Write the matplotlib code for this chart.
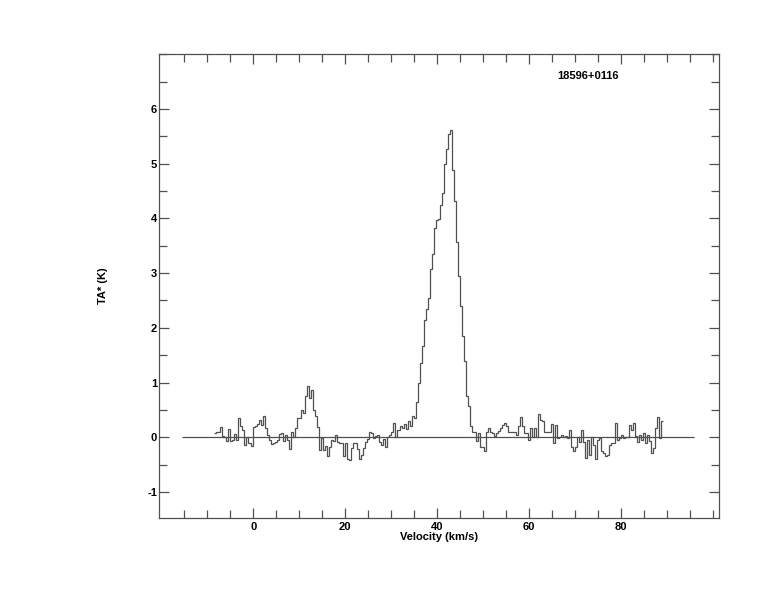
import numpy as np
import matplotlib
matplotlib.use("Agg")
import matplotlib.pyplot as plt

plt.rcParams['font.family'] = ['Liberation Sans', 'DejaVu Sans']
plt.rcParams['font.weight'] = 'bold'
plt.rcParams['axes.unicode_minus'] = False

source_name = "18596+0116"
v_start = -8.48
dv = 0.4377
# antenna temperature per channel (K)
ta = [
    0.07, 0.09, 0.09, 0.18, 0.02, 0.00, -0.07, 0.15, -0.06, -0.05,
    0.06, -0.05, 0.35, 0.20, 0.13, -0.14, 0.01, -0.11, -0.16, 0.18,
    0.20, 0.25, 0.32, 0.23, 0.38, 0.17, 0.04, -0.05, -0.12, -0.10,
    -0.08, -0.05, 0.06, 0.07, -0.06, 0.04, -0.05, -0.22, 0.09, 0.01,
    0.17, 0.35, 0.35, 0.50, 0.44, 0.75, 0.93, 0.72, 0.87, 0.50,
    0.38, 0.18, -0.23, -0.02, -0.23, -0.16, -0.34, -0.18, -0.05, -0.06,
    0.04, -0.08, -0.10, -0.11, -0.34, -0.10, -0.39, -0.42, -0.20, -0.10,
    -0.11, -0.22, -0.39, -0.32, -0.20, -0.08, -0.04, 0.10, 0.07, -0.02,
    0.02, 0.04, -0.08, -0.14, -0.04, -0.17, 0.01, 0.04, 0.09, 0.26,
    0.00, 0.13, 0.20, 0.17, 0.25, 0.15, 0.29, 0.20, 0.39, 0.35,
    0.64, 0.99, 1.36, 1.66, 2.15, 2.35, 2.54, 3.08, 3.35, 3.83,
    3.98, 3.99, 4.24, 4.46, 5.00, 5.26, 5.55, 5.61, 4.89, 4.31,
    3.57, 2.95, 2.40, 1.85, 1.39, 0.75, 0.57, 0.21, 0.09, 0.10,
    -0.06, 0.07, -0.17, -0.18, -0.25, 0.10, 0.17, 0.10, 0.07, 0.02,
    0.07, 0.12, 0.17, 0.23, 0.26, 0.21, 0.10, 0.10, 0.10, 0.10,
    0.04, 0.20, 0.37, 0.20, 0.07, 0.07, -0.05, 0.17, 0.00, 0.17,
    0.00, 0.43, 0.32, 0.29, 0.09, 0.10, 0.10, 0.24, -0.11, 0.23,
    -0.02, 0.00, 0.04, 0.01, 0.02, -0.02, 0.13, -0.17, -0.25, -0.17,
    0.00, -0.08, 0.13, -0.08, -0.37, -0.05, -0.33, 0.00, -0.14, -0.39,
    -0.05, -0.02, -0.26, -0.29, -0.35, -0.33, -0.14, -0.11, -0.10, 0.26,
    -0.05, -0.02, 0.04, -0.02, 0.00, 0.01, 0.23, 0.13, 0.26, 0.02,
    -0.08, 0.04, -0.05, 0.07, -0.11, 0.04, -0.06, -0.28, -0.20, 0.17,
    0.37, -0.02, 0.30,
]
baseline_range = (-15.43, 95.8)

edges = v_start + dv * np.arange(len(ta) + 1)

fig = plt.figure(figsize=(7.74, 6.12), dpi=100)
ax = fig.add_axes([0.2058, 0.1541, 0.7235, 0.7572])

line_col = '#505050'
ax.stairs(ta, edges, baseline=None, color=line_col, lw=0.9)
ax.hlines(0, baseline_range[0], baseline_range[1], color=line_col, lw=0.9)

ax.set_xlim(-20.43, 101.3)
ax.set_ylim(-1.47, 7.0)
ax.set_xticks([0, 20, 40, 60, 80])
ax.set_xticks(np.arange(-15, 101, 5), minor=True)
ax.set_yticks([-1, 0, 1, 2, 3, 4, 5, 6])
ax.set_yticks(np.arange(-1, 7.01, 0.5), minor=True)
ax.tick_params(which='both', direction='in', top=True, right=True,
               color=line_col, width=0.9, labelsize=8)
ax.tick_params(which='major', length=7.5)
ax.tick_params(which='minor', length=5.5)
ax.tick_params(axis='y', pad=1.5)
ax.tick_params(axis='x', pad=3)
for s in ax.spines.values():
    s.set_color(line_col)
    s.set_linewidth(0.9)

ax.set_xlabel("Velocity (km/s)", fontsize=8, fontweight='bold', labelpad=0)
ax.set_ylabel("TA* (K)", fontsize=8, fontweight='bold', labelpad=28)
ax.text(0.766, 0.953, source_name, transform=ax.transAxes, ha='center', va='center',
        fontsize=8, fontweight='bold')

plt.savefig('out.png', dpi=100)
